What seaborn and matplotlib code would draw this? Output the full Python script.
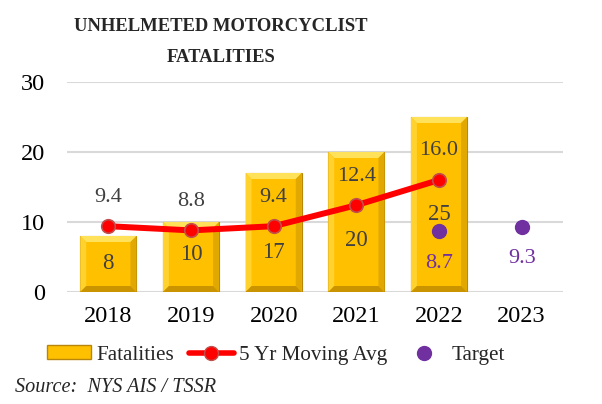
import numpy as np
import pandas as pd
import seaborn as sns
import matplotlib.pyplot as plt
from matplotlib.patches import Polygon
from matplotlib.lines import Line2D
from matplotlib.patches import Patch

years = ['2018', '2019', '2020', '2021', '2022', '2023']
fatalities = [8, 10, 17, 20, 25, np.nan]
moving_avg = [9.4, 8.8, 9.4, 12.4, 16.0]
target_years = ['2022', '2023']
target = [8.7, 9.3]

GOLD = '#FFC000'
RED = '#FF0000'
PURPLE = '#7030A0'
TXT = '#404040'

sns.set_style('white')
plt.rcParams['font.family'] = ['Liberation Serif', 'DejaVu Serif']

fig = plt.figure(figsize=(6.02, 4.04), dpi=100)
L, R, B, T = 67 / 602, 563 / 602, (404 - 292) / 404, (404 - 82) / 404
ax = fig.add_axes([L, B, R - L, T - B])

df = pd.DataFrame({'Year': years, 'Fatalities': fatalities})
sns.barplot(data=df, x='Year', y='Fatalities', color=GOLD, saturation=1,
            width=0.68, edgecolor='#B8860B', linewidth=0.8, ax=ax, zorder=2)

ax.set_ylim(0, 30)
ax.set_xlim(-0.5, 5.5)
ax.set_yticks([0, 10, 20, 30])
ax.yaxis.grid(True, color='#D9D9D9', linewidth=1.5, zorder=0)
ax.set_axisbelow(True)
for s in ax.spines.values():
    s.set_visible(False)
ax.set_xlabel('')
ax.set_ylabel('')
ax.tick_params(axis='both', labelsize=17.5, length=0, colors='black')
ax.tick_params(axis='y', pad=16)
ax.tick_params(axis='x', pad=10)

# bevel on bars
xpx = (R - L) * 602 / 6.0
ypx = (T - B) * 404 / 30.0
bx, by = 6 / xpx, 6 / ypx
for p in ax.patches:
    h = p.get_height()
    if not np.isfinite(h) or h <= 0:
        continue
    x0, w = p.get_x(), p.get_width()
    x1 = x0 + w
    top = [(x0, h), (x1, h), (x1 - bx, h - by), (x0 + bx, h - by)]
    left = [(x0, 0), (x0, h), (x0 + bx, h - by), (x0 + bx, by)]
    right = [(x1, 0), (x1, h), (x1 - bx, h - by), (x1 - bx, by)]
    bot = [(x0, 0), (x1, 0), (x1 - bx, by), (x0 + bx, by)]
    for pts, c in [(top, '#FFE15A'), (left, '#FFD22E'), (right, '#E0A800'), (bot, '#C99400')]:
        ax.add_patch(Polygon(pts, closed=True, facecolor=c, edgecolor='none', zorder=2.5))

# bar value labels
label_y = [4.1, 5.3, 5.6, 7.4, 11.0]
for i, v in enumerate(fatalities[:5]):
    ax.text(i, label_y[i], f'{int(v)}', ha='center', va='center', fontsize=16.5, color=TXT, zorder=5)

# moving average line
xs = list(range(len(moving_avg)))
ax.plot(xs, moving_avg, color=RED, linewidth=4.3, zorder=3, solid_capstyle='round')
ax.scatter(xs, moving_avg, s=95, color=RED, edgecolor='#C0504D', linewidth=1.2, zorder=4)
for x, v in zip(xs, moving_avg):
    ax.annotate(f'{v:.1f}', (x, v), xytext=(0, 21), textcoords='offset points',
                ha='center', va='center', fontsize=16, color=TXT, zorder=5)

# target points
tx = [years.index(y) for y in target_years]
ax.scatter(tx, target, s=100, color=PURPLE, zorder=4)
for x, v in zip(tx, target):
    ax.annotate(f'{v:.1f}', (x, v), xytext=(0, -23), textcoords='offset points',
                ha='center', va='center', fontsize=16, color=PURPLE, zorder=5)

fig.text(221 / 602, 1 - 42 / 404, 'UNHELMETED MOTORCYCLIST\nFATALITIES', ha='center', va='center',
         fontsize=13.4, fontweight='bold', linespacing=2.1)

handles = [
    Patch(facecolor=GOLD, edgecolor='#B8860B'),
    Line2D([0], [0], color=RED, linewidth=4, marker='o', markersize=10,
           markerfacecolor=RED, markeredgecolor='#C0504D'),
    Line2D([0], [0], color='none', marker='o', markersize=10, markerfacecolor=PURPLE,
           markeredgecolor=PURPLE),
]
fig.legend(handles, ['Fatalities', '5 Yr Moving Avg', 'Target'], loc='center',
           bbox_to_anchor=(276 / 602, 1 - 355 / 404), ncol=3, frameon=False, fontsize=15.2,
           handlelength=2.1, handleheight=0.6, handletextpad=0.25, columnspacing=0.7)

fig.text(15 / 602, 1 - 388 / 404, 'Source:  NYS AIS / TSSR', ha='left', va='center',
         fontsize=14.6, style='italic')

fig.savefig('out.png', dpi=100)
